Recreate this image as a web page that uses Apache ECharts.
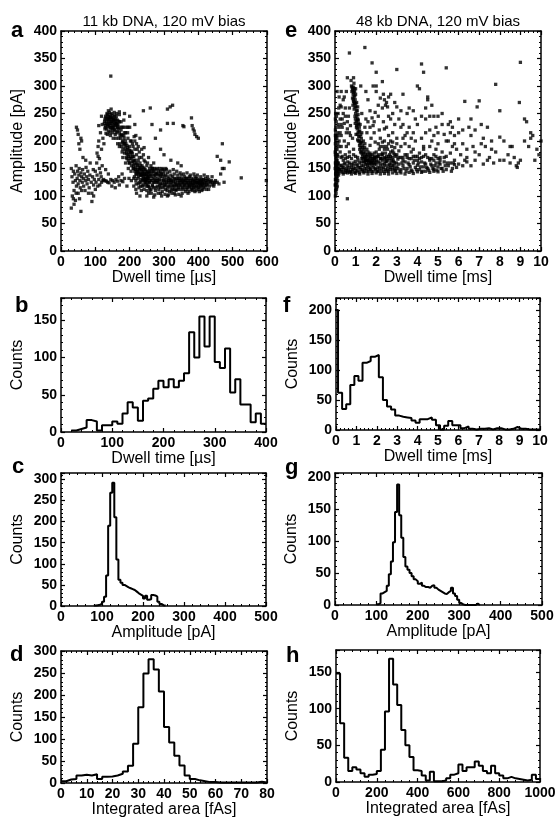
<!DOCTYPE html>
<html>
<head>
<meta charset="utf-8">
<script src="https://cdn.jsdelivr.net/npm/echarts@6/dist/echarts.min.js"></script>
<style>html,body{margin:0;padding:0;background:#fff}#c{width:556px;height:821px}</style>
</head>
<body>
<div id="c"></div>
<script>
// ---------- DATA ----------
const titleLeft = '11 kb DNA, 120 mV bias';
const titleRight = '48 kb DNA, 120 mV bias';

// Panel a: dwell time [µs] vs amplitude [pA]
const scatterA = [
[30,150],[32,135],[35,125],[33,100],[36,95],[30,78],[38,110],[40,140],[42,128],[45,118],[44,155],[47,132],[48,145],[50,122],[50,105],[52,138],[53,150],[55,128],[56,115],[58,142],[58,72],[60,135],[62,125],[63,148],[65,132],[66,118],[68,140],[70,110],[72,128],[73,152],[75,135],[76,122],[78,145],[80,130],[82,115],[84,138],[85,160],[88,125],[90,105],[90,90],[92,135],[94,148],[95,120],[97,130],[100,112],[100,145],[102,125],[104,160],[105,138],[107,118],[108,172],[110,130],[112,150],[113,120],[115,142],[117,135],[118,125],[120,155],[122,128],[45,225],[48,220],[50,212],[52,195],[55,185],[58,205],[60,200],[38,85],[42,92],[64,170],[72,165],[80,105],[95,100],[60,110],[36,145],[44,105],[54,95],
[105,178],[108,190],[110,200],[112,168],[115,215],[118,185],[120,230],[122,205],[125,195],[128,222],[110,228],[118,245],[124,130],[128,128],[132,127],[136,125],[140,124],[145,130],[150,128],[155,125],[160,130],[165,127],[170,120],[175,128],[180,126],[185,132],[130,148],[138,140],[148,118],[158,115],[168,135],[178,140],
[126,232],[128,240],[130,228],[130,245],[132,236],[133,222],[134,250],[135,240],[136,230],[137,245],[138,218],[139,235],[140,242],[140,228],[141,252],[142,238],[143,225],[144,248],[145,232],[145,243],[146,220],[147,236],[148,250],[149,228],[150,240],[150,215],[151,233],[152,246],[153,225],[154,238],[155,230],[156,245],[157,220],[158,235],[159,228],[160,240],[161,215],[162,232],[163,225],[164,238],[165,218],[166,230],[168,222],[170,235],[172,210],[131,214],[135,212],[144,210],[152,205],[160,205],[138,255],[146,258],[155,252],[162,250],[170,248],[145,318],
[127,236],[129,225],[131,242],[133,232],[135,248],[137,226],[139,240],[141,232],[143,244],[145,225],[147,242],[149,235],[151,225],[153,240],[155,220],[157,238],[159,232],[161,245],[163,230],[165,225],[167,236],[142,215],[150,222],[158,212],
[168,205],[170,215],[172,195],[174,205],[175,220],[176,190],[178,210],[180,200],[180,185],[182,195],[184,205],[185,178],[186,190],[188,200],[190,182],[190,170],[192,192],[193,175],[195,185],[196,165],[198,178],[200,190],[200,160],[202,172],[204,182],[205,155],[206,168],[208,178],[210,150],[210,162],[212,172],[214,158],[215,145],[216,165],[218,152],[220,175],[220,140],[222,158],[224,148],[225,165],[226,135],[228,152],[230,142],[230,160],[232,130],[234,148],[235,138],[236,155],[238,128],[240,145],[240,135],[242,150],[244,125],[245,140],[246,132],[248,145],[250,122],[250,138],[252,128],[254,142],[255,118],[256,132],[258,125],[260,138],[185,215],[195,205],[205,200],[210,190],[215,185],[220,195],[228,180],[235,170],[245,162],[250,155],[258,150],[200,225],[190,225],[213,208],[225,190],[240,175],[180,170],[188,160],[196,150],[204,145],[212,132],[218,128],[225,122],[232,118],[178,225],[183,238],[194,215],[230,205],[242,188],[255,170],[218,210],
[172,225],[176,212],[179,198],[183,210],[187,185],[189,195],[191,178],[194,188],[197,172],[199,183],[201,168],[203,178],[207,162],[209,172],[211,155],[213,165],[217,148],[219,160],[221,145],[223,155],[227,142],[229,148],[231,155],[233,138],[237,145],[239,152],[241,130],[243,138],[247,128],[249,140],[251,145],[253,132],
[165,195],[170,190],[175,235],[178,180],[182,225],[185,195],[188,215],[192,168],[195,225],[198,160],[202,200],[205,180],[208,195],[212,150],[215,200],[218,140],[222,185],[225,140],[228,170],[232,150],[235,185],[238,140],[242,165],[245,148],[248,130],[252,160],[255,135],[258,145],[262,155],[265,150],[268,145],[272,150],[275,140],[280,150],[285,145],[290,140],[295,150],[300,145],
[250,100],[270,98],[290,105],[310,100],[330,105],[350,100],[370,105],[390,108],[410,110],[430,112],[220,105],[230,100],
[262,112],[264,128],[265,140],[266,120],[268,132],[270,115],[270,145],[272,125],[274,136],[275,110],[276,128],[278,142],[280,118],[280,132],[282,125],[284,138],[285,112],[286,130],[288,122],[290,145],[290,115],[292,128],[294,135],[295,108],[296,122],[298,140],[300,118],[300,130],[302,125],[304,112],[305,138],[306,120],[308,130],[310,115],[310,142],[312,125],[314,118],[315,132],[316,108],[318,125],[320,138],[320,115],[322,128],[324,120],[325,135],[326,112],[328,126],[330,118],[330,140],[332,130],[334,122],[335,110],[336,132],[338,118],[340,128],[340,138],[342,115],[344,125],[345,132],[346,120],[348,112],[350,128],[350,138],[352,122],[354,115],[355,130],[356,125],[358,118],[360,135],[360,120],[362,128],[364,115],[365,125],[366,132],[368,120],[370,128],[370,115],[372,122],[374,135],[375,118],[376,128],[378,122],[380,115],[380,132],[382,125],[384,120],[385,130],[386,115],[388,126],[390,120],[390,135],[392,128],[394,118],[395,125],[396,132],[398,122],[400,118],[400,128],[402,125],[404,130],[405,115],[406,122],[408,128],[410,120],[412,125],[414,118],[415,130],[418,122],[420,128],[422,118],[425,125],[428,122],[430,130],[436,125],[440,120],[445,118],[448,125],
[240,120],[242,112],[245,130],[248,118],[250,110],[252,135],[255,105],[256,125],[258,115],[260,128],[261,145],[263,105],[267,150],[273,102],[277,148],[283,105],[287,150],[293,100],[297,148],[303,103],[307,148],[313,102],[317,145],[323,105],[327,148],[333,102],[337,145],[343,103],[347,142],[353,105],[357,140],[363,108],[367,142],[373,108],[377,138],[383,110],[387,140],[393,110],[397,138],[403,108],[407,135],[413,112],[417,138],[423,112],[427,135],[212,118],[218,112],[222,132],[228,125],[234,110],[236,140],[205,128],[198,132],[192,118],
[214,135],[219,122],[223,145],[227,115],[231,138],[233,125],[237,118],[239,132],[243,140],[247,124],[249,132],[253,118],[257,140],[259,110],[263,135],[267,118],[269,125],[271,138],[273,130],[277,115],[279,125],[281,140],[283,128],[287,118],[289,135],[291,122],[293,140],[297,115],[299,128],[301,135],[303,120],[307,125],[309,110],[311,135],[313,128],[317,120],[319,130],[321,110],[323,125],[327,118],[329,132],[331,112],[333,125],[337,120],[339,112],[341,132],[343,122],[347,128],[349,118],[351,132],[353,125],[357,112],[359,128],[361,122],[363,132],[367,112],[369,125],[371,132],[373,118],[377,125],[379,112],[381,120],[383,128],[387,122],[389,115],[391,125],[393,132],[397,115],[399,125],[401,112],[403,122],[407,118],[409,125],[411,130],[413,122],[416,115],[419,125],[421,132],[424,120],[426,128],[432,118],[434,126],[438,128],[442,125],[446,122],[450,128],[455,125],[460,122],
[290,220],[310,258],[318,262],[325,265],[327,232],[310,232],[355,228],[358,226],[380,242],[382,228],[385,222],[388,218],[390,212],[395,208],[400,205],[470,195],[465,165],[470,150],[475,150],[475,125],[490,162],[525,133],[598,128],[455,172],[440,135],[465,140],[260,260],[240,255],[265,230],[275,205],[290,185],[300,175],[320,165],[340,160],[350,155],[305,150],[270,160],[200,245],[215,230],[185,250],[170,253]
];

// Panel e: dwell time [ms] vs amplitude [pA]
const scatterE = [
[0.02,100],[0.03,110],[0.04,120],[0.05,130],[0.03,140],[0.06,150],[0.04,160],[0.05,170],[0.03,180],[0.06,190],[0.04,200],[0.05,210],[0.02,220],[0.06,235],[0.03,250],[0.07,245],[0.08,115],[0.09,125],[0.1,135],[0.08,145],[0.12,140],[0.1,155],[0.08,165],[0.12,175],[0.1,185],[0.14,195],[0.09,205],[0.13,215],[0.15,145],[0.18,150],[0.16,160],[0.2,142],[0.22,148],[0.25,155],[0.05,105],[0.07,112],[0.06,122],[0.09,132],[0.11,118],[0.13,128],[0.02,160],[0.02,195],[0.02,240],[0.15,230],[0.18,260],[0.2,280],[0.1,290],[0.25,265],[0.3,290],[0.02,175],[0.17,138],[0.14,172],[0.19,190],
[0.01,120],[0.01,150],[0.01,180],[0.02,130],[0.03,155],[0.04,145],[0.04,185],[0.05,140],[0.06,165],[0.07,135],[0.07,175],[0.08,155],[0.09,145],[0.1,165],[0.11,150],[0.12,160],[0.13,150],[0.14,158],[0.03,205],[0.05,225],[0.02,210],
[0.3,145],[0.35,152],[0.4,148],[0.45,158],[0.5,143],[0.55,150],[0.6,155],[0.65,147],[0.7,160],[0.75,145],[0.8,152],[0.85,148],[0.9,156],[0.95,143],[1.0,150],[1.05,158],[1.1,146],[1.15,152],[1.2,160],[1.25,148],[1.3,155],[1.35,145],[1.4,162],[1.45,150],[1.5,157],[1.55,145],[1.6,165],[1.65,152],[1.7,148],[1.75,160],[1.8,155],[1.85,145],[1.9,168],[1.95,150],[2.0,158],[2.05,145],[2.1,162],[2.15,150],[2.2,155],[2.25,145],[2.3,165],[2.35,152],[2.4,158],[2.45,148],[2.5,162],[2.55,150],[2.6,145],[2.65,158],[2.7,152],[2.75,165],[2.8,148],[2.85,155],[2.9,160],[2.95,147],[3.0,153],[3.1,158],[3.2,148],[3.3,155],[3.4,162],[3.5,150],[3.6,157],[3.7,147],[3.8,160],[3.9,152],[4.0,156],[4.1,148],[4.2,162],[4.3,153],[4.4,158],[4.5,150],[4.6,165],[4.7,155],[4.8,148],[4.9,160],[5.0,153],[5.1,158],[5.2,150],[5.3,162],[5.4,148],[5.5,155],[5.6,160],[5.7,150],[5.8,157],[5.9,152],[6.0,158],[6.2,155],[6.4,162],[0.4,165],[0.6,170],[0.8,168],[1.0,172],[0.5,175],[0.7,180],[0.9,185],[0.3,190],[0.45,200],[0.65,195],[0.85,205],[0.55,215],[0.35,225],[0.25,240],[0.4,250],[0.6,235],[0.75,228],[0.5,260],[0.45,280],[0.7,260],[0.65,245],[0.3,210],[0.2,200],[0.25,180],[0.15,210],[0.35,172],[0.55,190],[0.75,210],[0.6,222],[0.2,225],
[0.25,148],[0.32,156],[0.38,143],[0.42,152],[0.48,160],[0.52,147],[0.58,145],[0.62,162],[0.68,152],[0.72,143],[0.78,157],[0.82,145],[0.88,160],[0.92,150],[0.98,163],[1.02,145],[1.08,155],[1.12,165],[1.18,143],[1.22,152],[1.28,162],[1.32,148],[1.38,155],[1.42,145],[1.48,165],[1.52,150],[1.58,155],[1.62,145],[1.68,158],[1.72,150],[1.78,145],[1.82,165],[1.88,152],[1.92,158],[1.98,148],[2.02,165],[2.08,152],[2.12,145],[2.18,160],[2.22,168],[2.28,150],[2.32,158],[2.38,145],[2.42,168],[2.48,155],[2.52,145],[2.58,165],[2.62,155],[2.68,148],[2.72,160],[2.78,155],[2.82,165],[2.88,150],[2.92,145],[2.98,160],[3.05,150],[3.15,145],[3.25,160],[3.35,150],[3.45,145],[3.55,160],[3.65,153],[3.75,145],[3.85,165],[3.95,148],[4.05,160],[4.15,153],[4.25,145],[4.35,160],[4.45,152],[4.55,147],[4.65,158],[4.75,150],[4.85,155],[4.95,147],[5.05,160],[5.15,150],[5.25,145],[5.35,155],[5.45,160],[5.65,145],[5.75,160],
[0.3,170],[0.5,168],[0.7,172],[0.9,175],[1.1,170],[1.3,168],[1.5,165],[1.7,175],[1.9,178],[2.1,172],[2.3,175],[2.5,168],[2.7,172],[2.9,175],[3.1,170],[3.3,165],[3.5,170],[3.7,168],[3.9,172],[4.1,168],[4.3,172],[4.5,170],[4.7,168],[4.9,172],[5.1,165],[5.3,170],[0.4,140],[0.6,142],[0.8,140],[1.0,141],[1.2,140],[1.4,142],[1.6,140],[1.8,141],[2.0,142],[2.2,140],[2.4,141],[2.6,140],[2.8,142],[3.0,141],[3.2,142],[3.4,140],[3.6,143],[3.8,141],[4.0,144],[4.2,143],[4.4,145],[4.6,143],[4.8,145],[5.0,144],
[0.8,300],[0.85,295],[0.9,298],[0.95,290],[0.88,285],[0.92,280],[0.98,275],[0.85,278],[0.95,268],[1.0,285],[1.02,262],[0.93,258],[1.05,270],[1.0,250],[1.08,255],[0.97,245],[1.1,240],[1.03,235],[1.12,248],[1.05,228],[1.15,232],[1.08,222],[1.18,225],[1.12,215],[1.2,218],[1.15,208],[1.25,212],[1.18,200],[1.28,205],[1.22,195],[1.3,198],[1.25,188],[1.35,192],[1.3,182],[1.4,185],[1.35,176],[1.45,180],[1.42,170],[1.5,175],[1.48,168],[1.55,172],[1.6,165],[1.65,170],[1.7,162],[1.75,168],[1.8,160],[1.9,165],[0.82,290],[0.9,272],[0.87,265],[0.96,282],[1.0,295],[1.06,245],[1.13,238],[1.22,230],[1.3,215],[1.38,200],[1.45,195],[1.55,185],[1.6,180],[1.7,178],[1.8,175],[1.9,172],[2.0,170],[0.78,310],[0.92,305],[1.1,262],[0.98,232],[1.02,212],[1.1,202],[1.2,185],[1.28,178],[1.35,168],[1.42,162],[1.52,160],
[0.83,298],[0.87,292],[0.91,288],[0.94,295],[0.89,275],[0.93,270],[0.97,262],[1.0,268],[1.04,255],[0.99,240],[1.07,238],[1.04,225],[1.11,230],[1.09,212],[1.16,218],[1.14,200],[1.21,208],[1.19,192],[1.26,198],[1.24,180],[1.32,188],[1.33,172],[1.39,178],[1.44,188],[1.46,172],[1.53,165],[1.58,175],[1.63,160],[1.68,165],[1.73,172],[1.78,162],[1.83,168],[1.88,160],[1.93,170],[1.98,162],
[2.0,180],[2.1,175],[2.2,190],[2.3,178],[2.4,185],[2.5,172],[2.6,195],[2.7,180],[2.8,170],[2.9,188],[3.0,175],[3.1,182],[3.2,170],[2.2,205],[2.4,200],[2.6,210],[2.8,198],[3.0,205],[2.15,220],[2.35,235],[2.5,225],[2.7,240],[2.9,230],[2.1,245],[2.3,260],[2.5,270],[2.6,280],[2.7,285],[2.4,275],[2.45,265],[2.55,262],[2.35,285],[2.2,278],[2.8,250],[3.1,240],[3.3,230],[3.5,215],[3.7,205],[3.4,195],[3.6,190],[3.8,185],[3.9,200],[4.1,178],[4.3,190],[4.0,172],[2.25,168],[2.45,163],[2.65,168],[2.85,162],[3.05,167],[3.3,170],[3.5,175],[1.85,300],[2.0,290],[2.1,265],[1.95,252],[1.8,242],[1.85,228],[1.9,215],[1.75,205],[1.95,198],[1.7,192],
[2.05,172],[2.15,185],[2.25,175],[2.35,190],[2.45,178],[2.55,185],[2.65,175],[2.75,190],[2.85,178],[2.95,172],[2.2,168],[2.4,170],[2.6,172],[2.8,182],[2.1,195],[2.3,198],[2.5,190],[2.7,200],
[0.3,230],[0.5,245],[0.7,215],[1.3,250],[1.5,240],[1.7,225],[1.9,235],[2.4,222],[2.6,245],[2.8,215],[3.0,195],[3.2,190],[3.4,210],[3.6,225],[3.8,215],[4.0,230],[4.2,205],[4.4,240],[4.6,220],[4.8,245],[5.0,215],[5.2,230],[5.4,200],[5.6,215],[5.8,195],[6.2,220],[6.6,240],[7.4,225],[7.6,185],[8.2,200],[8.5,160],[9.0,165],[9.4,190],[9.9,175],[3.3,205],[3.7,180],[4.3,185],[4.9,185],[5.7,190],[6.3,165],[6.7,190],[7.1,195],
[0.7,360],[1.45,370],[1.8,342],[2.0,325],[2.3,308],[3.0,330],[3.3,285],[4.2,340],[4.0,300],[4.1,295],[4.3,325],[4.5,280],[4.5,275],[4.4,260],[4.6,245],[4.7,265],[4.2,245],[3.8,255],[3.9,240],[3.6,260],[3.2,255],[5.4,333],[5.0,245],[5.2,250],[5.5,230],[5.6,235],[5.8,210],[5.7,225],[6.0,240],[6.3,272],[6.9,262],[7.0,273],[7.8,303],[8.0,255],[9.0,343],[8.95,270],[9.2,240],[9.3,235],[9.5,205],[9.2,200],[9.8,185],[9.7,165],[10.0,200],[6.5,225],[6.8,220],[7.1,230],[7.2,205],[6.6,210],[6.2,195],[6.4,185],[6.8,180],[7.0,175],[7.3,190],[7.5,170],[7.6,200],[7.8,180],[8.0,207],[8.2,165],[8.4,175],[8.5,190],[8.7,170],[8.8,155],[8.9,160],[8.85,152],[8.6,190],[8.0,165],[7.7,160],[7.4,165],[7.2,158],[6.8,165],[6.6,155],[6.4,170],[6.1,175],[5.9,185],[5.5,200],[5.3,212],[5.2,180],[5.0,195],[4.8,210],[4.9,225],[4.7,200],[4.4,215],[4.6,190],[4.8,175],[5.1,170],[5.4,172],[5.6,178],[5.8,165],[3.4,175],[3.6,168],[3.8,172],[4.0,165],[4.2,170],[4.4,175],[4.6,168],[4.8,165],[5.0,168],[3.2,225],[3.0,262],[2.9,270],[2.0,300],[0.6,315],[1.25,300],[1.5,290],[1.7,255],[1.6,235],[1.55,215],[1.45,225],[1.6,275],[3.5,250],[0.9,315],[0.6,95],[6.0,215],[9.5,215],[9.6,210],[0.4,275],[0.55,290],[0.15,250],[0.25,215],[0.35,240],[0.45,232],[0.3,262]
];

// Histograms: first bin left edge, bin width, counts
const histBStart = 20, histBWidth = 10;
const histBCounts = [2,4,6,16,14,2,9,9,14,11,25,40,33,15,42,45,58,69,60,71,60,69,79,134,100,155,115,155,94,86,112,53,71,37,37,13,25,11];

const histFStart = -0.1, histFWidth = 0.2;
const histFCounts = [200,62,35,43,75,90,82,112,115,122,125,88,50,39,34,24,22,21,20,16,12,18,18,21,17,8,1,7,15,8,8,3,6,2,1,2,2,3,1,3,3,1,1,2,5,2,2,1,1,1,1];

const histCStart = 80, histCWidth = 5;
const histCCounts = [1,2,3,5,10,22,72,190,268,292,210,110,62,55,50,47,44,42,40,38,34,30,27,24,18,24,15,16,26,25,22,10,5,2,1];

const histGStart = 100, histGWidth = 5;
const histGCounts = [1,3,18,20,22,30,48,68,98,145,188,140,105,75,60,55,50,45,40,37,33,35,30,28,28,27,30,31,27,24,22,20,18,17,20,22,27,18,14,8,3,1,0,0,0,0,0,0,2,0];

const histDStart = 0, histDWidth = 2;
const histDCounts = [4,8,9,17,19,17,20,9,14,15,17,21,26,39,89,172,249,281,258,208,127,92,62,40,17,9,6,4,2,2,1,1,1,1,1,1,1,1,3,1];

const histHStart = 0, histHWidth = 20;
const histHCounts = [148,80,33,15,20,17,12,7,10,11,15,44,96,168,133,105,71,50,34,16,15,9,2,14,1,1,2,5,10,12,24,15,20,20,28,22,15,12,22,12,9,5,7,5,4,3,2,3,10,4];

// ---------- BUILD ----------
const FONT = '"Liberation Sans", Arial, Helvetica, sans-serif';

function stepData(start, width, counts) {
  const d = counts.map((c, i) => [start + i * width, c]);
  d.push([start + counts.length * width, counts[counts.length - 1]]);
  return d;
}

const panels = [
  {letter:'a', lx:19, ly:32, grid:{left:61, top:31, width:206, height:220},
   x:{min:0, max:600, interval:100, name:'Dwell time [µs]'}, y:{min:0, max:400, interval:50, name:'Amplitude [pA]'},
   kind:'scatter', data:scatterA},
  {letter:'e', lx:293, ly:32, grid:{left:335, top:31, width:206, height:220},
   x:{min:0, max:10, interval:1, name:'Dwell time [ms]'}, y:{min:0, max:400, interval:50, name:'Amplitude [pA]'},
   kind:'scatter', data:scatterE},
  {letter:'b', lx:23, ly:307, grid:{left:61, top:298, width:205, height:134},
   x:{min:0, max:400, interval:100, name:'Dwell time [µs]'}, y:{min:0, max:180, interval:50, name:'Counts'},
   kind:'hist', data:stepData(histBStart, histBWidth, histBCounts)},
  {letter:'f', lx:291, ly:307, grid:{left:336, top:298, width:204, height:132},
   x:{min:0, max:10, interval:1, name:'Dwell time [ms]'}, y:{min:0, max:220, interval:50, name:'Counts'},
   kind:'hist', data:stepData(histFStart, histFWidth, histFCounts)},
  {letter:'c', lx:20, ly:468, grid:{left:61, top:473, width:205, height:133},
   x:{min:0, max:500, interval:100, name:'Amplitude [pA]'}, y:{min:0, max:315, interval:50, name:'Counts'},
   kind:'hist', data:stepData(histCStart, histCWidth, histCCounts)},
  {letter:'g', lx:293, ly:469, grid:{left:335, top:473, width:207, height:132},
   x:{min:0, max:500, interval:100, name:'Amplitude [pA]'}, y:{min:0, max:206, interval:50, name:'Counts'},
   kind:'hist', data:stepData(histGStart, histGWidth, histGCounts)},
  {letter:'d', lx:18, ly:656, grid:{left:61, top:651, width:206, height:132},
   x:{min:0, max:80, interval:10, name:'Integrated area [fAs]'}, y:{min:0, max:300, interval:50, name:'Counts'},
   kind:'hist', data:stepData(histDStart, histDWidth, histDCounts)},
  {letter:'h', lx:294, ly:657, grid:{left:336, top:650, width:204, height:132},
   x:{min:0, max:1000, interval:200, name:'Integrated area [fAs]'}, y:{min:0, max:180, interval:50, name:'Counts'},
   kind:'hist', data:stepData(histHStart, histHWidth, histHCounts)}
];

const grid = [], xAxis = [], yAxis = [], series = [], graphic = [];
const lineStyle = {color:'#000', width:1.5};
const tickStyle = {color:'#000', width:1.2};

panels.forEach((p, i) => {
  grid.push(Object.assign({containLabel:false, outerBoundsMode:'none'}, p.grid));
  const common = (ax) => ({
    gridIndex:i, type:'value', min:ax.min, max:ax.max, interval:ax.interval,
    splitLine:{show:false},
    axisLine:{show:true, onZero:false, lineStyle:lineStyle},
    axisTick:{show:true, inside:true, length:4, lineStyle:tickStyle},
    minorTick:{show:true, splitNumber:5, length:2, lineStyle:{color:'#000', width:1}}
  });
  xAxis.push(Object.assign(common(p.x), {
    position:'bottom', name:p.x.name, nameLocation:'middle', nameGap:18,
    nameTextStyle:{fontFamily:FONT, fontSize:16, color:'#000'},
    axisLabel:{show:true, margin:4, fontFamily:FONT, fontSize:14, fontWeight:'bold', color:'#000',
      showMinLabel:true, showMaxLabel:true,
      formatter:(v) => (Math.abs(v / p.x.interval - Math.round(v / p.x.interval)) < 1e-6 ? String(+v.toFixed(6)) : '')}
  }));
  xAxis.push(Object.assign(common(p.x), {position:'top', axisLabel:{show:false}}));
  yAxis.push(Object.assign(common(p.y), {
    position:'left', name:p.y.name, nameLocation:'middle', nameGap:35,
    nameTextStyle:{fontFamily:FONT, fontSize:16, color:'#000'},
    axisLabel:{show:true, margin:4, fontFamily:FONT, fontSize:14, fontWeight:'bold', color:'#000',
      formatter:(v) => (v % p.y.interval === 0 ? String(v) : '')}
  }));
  yAxis.push(Object.assign(common(p.y), {position:'right', axisLabel:{show:false}}));

  if (p.kind === 'scatter') {
    series.push({type:'scatter', xAxisIndex:2*i, yAxisIndex:2*i, data:p.data,
      symbol:'rect', symbolSize:3.3, itemStyle:{color:'#000'}, silent:true, animation:false});
  } else {
    series.push({type:'line', xAxisIndex:2*i, yAxisIndex:2*i, data:p.data, step:'end',
      showSymbol:false, symbol:'none', clip:true, lineStyle:{color:'#000', width:2}, silent:true, animation:false});
  }
  graphic.push({type:'text', left:p.lx - 8, top:p.ly - 12,
    style:{text:p.letter, fontFamily:FONT, fontSize:22, fontWeight:'bold', fill:'#000'}});
});

graphic.push({type:'text', x:164, y:22, style:{text:titleLeft, fontFamily:FONT, fontSize:15, fill:'#000', align:'center', verticalAlign:'middle'}});
graphic.push({type:'text', x:438, y:22, style:{text:titleRight, fontFamily:FONT, fontSize:15, fill:'#000', align:'center', verticalAlign:'middle'}});

const chart = echarts.init(document.getElementById('c'), null, {renderer:'canvas'});
chart.setOption({backgroundColor:'#fff', animation:false, grid, xAxis, yAxis, series, graphic});
</script>
</body>
</html>
